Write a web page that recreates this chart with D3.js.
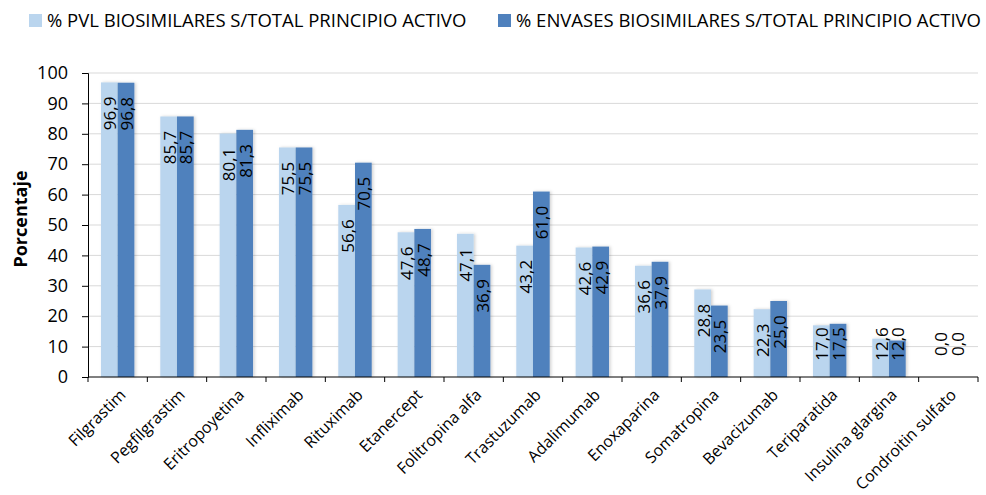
<!DOCTYPE html>
<meta charset="utf-8">
<title>Biosimilares</title>
<style>

body {
  margin: 0;
  background-color: white;
  font-family: "Open Sans", sans-serif;
}

.grid line {
  stroke: #d9d9d9;
  stroke-width: 1px;
}

.axis path,
.axis line {
  stroke: black;
}

</style>
<body>
<script src="https://cdn.jsdelivr.net/npm/d3@7"></script>
<script>

var categories = ["Filgrastim", "Pegfilgrastim", "Eritropoyetina", "Infliximab", "Rituximab",
    "Etanercept", "Folitropina alfa", "Trastuzumab", "Adalimumab", "Enoxaparina",
    "Somatropina", "Bevacizumab", "Teriparatida", "Insulina glargina", "Condroitin sulfato"];

var pvl = [96.9, 85.7, 80.1, 75.5, 56.6, 47.6, 47.1, 43.2, 42.6, 36.6, 28.8, 22.3, 17.0, 12.6, 0.0];

var envases = [96.8, 85.7, 81.3, 75.5, 70.5, 48.7, 36.9, 61.0, 42.9, 37.9, 23.5, 25.0, 17.5, 12.0, 0.0];

var seriesNames = ["% PVL BIOSIMILARES S/TOTAL PRINCIPIO ACTIVO",
    "% ENVASES BIOSIMILARES S/TOTAL PRINCIPIO ACTIVO"];

var yTicks = [0, 10, 20, 30, 40, 50, 60, 70, 80, 90, 100];

var colors = ["#bad5ee", "#4f81bd"];

var width = 986,
    height = 495,
    margin = {top: 73, right: 8, bottom: 118, left: 88};

var svg = d3.select("body").append("svg")
    .attr("width", width)
    .attr("height", height);

var x = d3.scaleBand()
    .domain(categories)
    .range([margin.left, width - margin.right]);

var y = d3.scaleLinear()
    .domain([0, 100])
    .range([height - margin.bottom, margin.top]);

var barW = 16.7;

// gridlines
svg.append("g")
    .attr("class", "grid")
  .selectAll("line")
    .data(yTicks.slice(1))
  .enter().append("line")
    .attr("x1", margin.left)
    .attr("x2", width - margin.right)
    .attr("y1", function(d) { return y(d); })
    .attr("y2", function(d) { return y(d); });

var series = [pvl, envases];

var defs = svg.append("defs");
var filter = defs.append("filter")
    .attr("id", "shadow")
    .attr("x", "-30%").attr("y", "-10%")
    .attr("width", "160%").attr("height", "120%");
filter.append("feDropShadow")
    .attr("dx", 1.5).attr("dy", 0)
    .attr("stdDeviation", 1.5)
    .attr("flood-color", "#000")
    .attr("flood-opacity", 0.18);

series.forEach(function(vals, s) {
  var g = svg.append("g");

  g.selectAll("rect")
      .data(vals)
    .enter().append("rect")
      .attr("x", function(d, i) { return x(categories[i]) + x.bandwidth() / 2 - barW + s * barW; })
      .attr("y", function(d) { return y(d); })
      .attr("width", barW)
      .attr("height", function(d) { return y(0) - y(d); })
      .attr("fill", colors[s])
      .attr("filter", "url(#shadow)");
});

// value labels, rotated, near the top of each bar
series.forEach(function(vals, s) {
  svg.append("g").selectAll("text")
      .data(vals)
    .enter().append("text")
      .attr("transform", function(d, i) {
        var cx = x(categories[i]) + x.bandwidth() / 2 - barW / 2 + s * barW + 1,
            cy = Math.min(y(d) + 31, y(0) - 33);
        return "translate(" + cx + "," + cy + ")rotate(-90)";
      })
      .attr("text-anchor", "middle")
      .attr("dy", "0.35em")
      .style("font-size", "17px")
      .style("fill", "#000")
      .text(function(d) { return d3.format(".1f")(d).replace(".", ","); });
});

// y axis
var yAxis = svg.append("g")
    .attr("class", "axis")
    .attr("transform", "translate(" + margin.left + ",0)")
    .call(d3.axisLeft(y).tickValues(yTicks).tickSize(6).tickPadding(14));

yAxis.selectAll("text")
    .style("font-size", "18px")
    .style("fill", "#000")
    .style("font-family", "Open Sans, sans-serif");

// x axis
var xAxis = svg.append("g")
    .attr("class", "axis")
    .attr("transform", "translate(0," + y(0) + ")");

xAxis.append("line")
    .attr("x1", margin.left)
    .attr("x2", width - margin.right)
    .attr("stroke", "black");

xAxis.selectAll(".tk")
    .data(categories.concat(["end"]))
  .enter().append("line")
    .attr("class", "tk")
    .attr("x1", function(d, i) { return margin.left + i * x.bandwidth(); })
    .attr("x2", function(d, i) { return margin.left + i * x.bandwidth(); })
    .attr("y1", 0)
    .attr("y2", 5)
    .attr("stroke", "black");

xAxis.selectAll(".lbl")
    .data(categories)
  .enter().append("text")
    .attr("class", "lbl")
    .attr("transform", function(d) {
      return "translate(" + (x(d) + x.bandwidth() / 2 + 5) + ",15)rotate(-45)";
    })
    .attr("text-anchor", "end")
    .attr("dy", "0.35em")
    .style("font-size", "16px")
    .text(function(d) { return d; });

// y title
svg.append("text")
    .attr("transform", "translate(27," + ((y(0) + y(100)) / 2 - 6) + ")rotate(-90)")
    .attr("text-anchor", "middle")
    .style("font-size", "18px")
    .style("font-weight", "bold")
    .text("Porcentaje");

// legend
var legendX = [29, 498];
var legend = svg.selectAll(".legend")
    .data(seriesNames)
  .enter().append("g")
    .attr("class", "legend")
    .attr("transform", function(d, i) { return "translate(" + legendX[i] + ",14)"; });

legend.append("rect")
    .attr("width", 13)
    .attr("height", 13)
    .attr("fill", function(d, i) { return colors[i]; });

legend.append("text")
    .attr("x", 18)
    .attr("y", 7)
    .attr("dy", "0.35em")
    .style("font-size", "18.5px")
    .text(function(d) { return d; });

</script>
